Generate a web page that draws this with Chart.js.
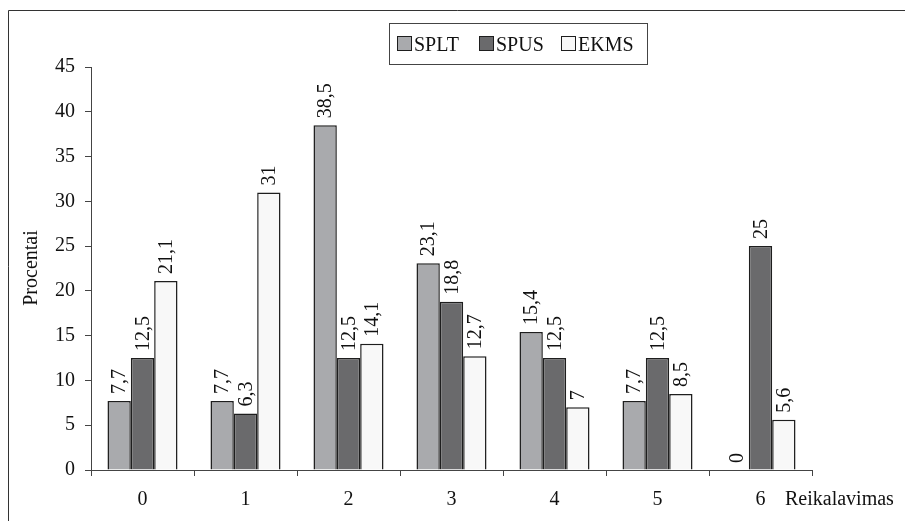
<!DOCTYPE html>
<html>
<head>
<meta charset="utf-8">
<script src="https://cdn.jsdelivr.net/npm/chart.js@4/dist/chart.umd.min.js"></script>
<style>
  html, body { margin: 0; padding: 0; background: #fff; }
  #wrap { width: 905px; height: 521px; position: relative; }
</style>
</head>
<body>
<div id="wrap"><canvas id="chart" width="905" height="521"></canvas></div>
<script>
'use strict';

// ── Data ──────────────────────────────────────────────
var categories = ['0', '1', '2', '3', '4', '5', '6'];
var seriesNames = ['SPLT', 'SPUS', 'EKMS'];
var spltValues = [7.7, 7.7, 38.5, 23.1, 15.4, 7.7, 0];
var spusValues = [12.5, 6.3, 12.5, 18.8, 12.5, 12.5, 25];
var ekmsValues = [21.1, 31, 14.1, 12.7, 7, 8.5, 5.6];
var yTicks = [0, 5, 10, 15, 20, 25, 30, 35, 40, 45];

var FONT = "'Liberation Serif', 'Times New Roman', serif";
var fills = ['#a9aaad', '#6a6a6c', '#f8f8f8'];
var edge = '#1e1e1e';

// draws the frame, legend box, axis titles and rotated value labels
var decorPlugin = {
  id: 'decor',
  afterDraw: function(chart) {
    var ctx = chart.ctx;
    var area = chart.chartArea;
    ctx.save();

    // outer frame
    ctx.strokeStyle = '#333';
    ctx.lineWidth = 1;
    ctx.beginPath();
    ctx.moveTo(8.5, 530);
    ctx.lineTo(8.5, 10.5);
    ctx.lineTo(910, 10.5);
    ctx.stroke();

    // legend
    ctx.strokeStyle = '#444';
    ctx.strokeRect(389.5, 23.5, 258, 41);
    var lx = [397, 479, 561];
    ctx.font = '20px ' + FONT;
    ctx.textBaseline = 'alphabetic';
    ctx.textAlign = 'left';
    seriesNames.forEach(function(name, i) {
      ctx.fillStyle = fills[i];
      ctx.fillRect(lx[i] + 0.5, 36.5, 14, 14);
      ctx.strokeStyle = edge;
      ctx.lineWidth = 1;
      ctx.strokeRect(lx[i] + 0.5, 36.5, 14, 14);
      ctx.fillStyle = '#111';
      ctx.fillText(name, lx[i] + 17, 51);
    });

    // axis titles
    ctx.fillStyle = '#111';
    ctx.font = '20px ' + FONT;
    ctx.fillText('Reikalavimas', 785, 505);
    ctx.save();
    ctx.translate(37, 268);
    ctx.rotate(-Math.PI / 2);
    ctx.textAlign = 'center';
    ctx.fillText('Procentai', 0, 0);
    ctx.restore();

    // value labels above each bar, rotated
    chart.data.datasets.forEach(function(ds, di) {
      var meta = chart.getDatasetMeta(di);
      meta.data.forEach(function(bar, i) {
        var txt = String(ds.data[i]).replace('.', ',');
        ctx.save();
        ctx.translate(bar.x, bar.y - 7);
        ctx.rotate(-Math.PI / 2);
        ctx.textAlign = 'left';
        ctx.textBaseline = 'middle';
        ctx.fillStyle = '#111';
        ctx.font = '20px ' + FONT;
        ctx.fillText(txt, 0, 1);
        ctx.restore();
      });
    });

    ctx.restore();
  }
};

function makeSet(label, data, i) {
  return {
    label: label,
    data: data,
    backgroundColor: fills[i],
    borderColor: edge,
    borderWidth: 1.5,
    borderSkipped: 'start',
    barPercentage: 1.0,
    categoryPercentage: 0.68
  };
}

new Chart(document.getElementById('chart'), {
  type: 'bar',
  data: {
    labels: categories,
    datasets: [
      makeSet(seriesNames[0], spltValues, 0),
      makeSet(seriesNames[1], spusValues, 1),
      makeSet(seriesNames[2], ekmsValues, 2)
    ]
  },
  options: {
    responsive: false,
    animation: false,
    layout: { padding: { left: 21, top: 67, right: 93, bottom: 11 } },
    plugins: {
      legend: { display: false },
      tooltip: { enabled: false }
    },
    scales: {
      x: {
        afterFit: function(s) { s.height = 40; },
        grid: { drawOnChartArea: false, drawTicks: true, tickLength: 6, color: '#444', lineWidth: 1 },
        border: { display: true, color: '#444', width: 1 },
        ticks: { color: '#111', font: { family: FONT, size: 20 }, padding: 12 }
      },
      y: {
        min: 0,
        max: 45,
        afterFit: function(s) { s.width = 70; },
        afterBuildTicks: function(s) {
          s.ticks = yTicks.map(function(v) { return { value: v }; });
        },
        grid: { drawOnChartArea: false, drawTicks: true, tickLength: 6, color: '#444', lineWidth: 1 },
        border: { display: true, color: '#444', width: 1 },
        ticks: { color: '#111', font: { family: FONT, size: 20 }, padding: 10 }
      }
    }
  },
  plugins: [decorPlugin]
});
</script>
</body>
</html>
